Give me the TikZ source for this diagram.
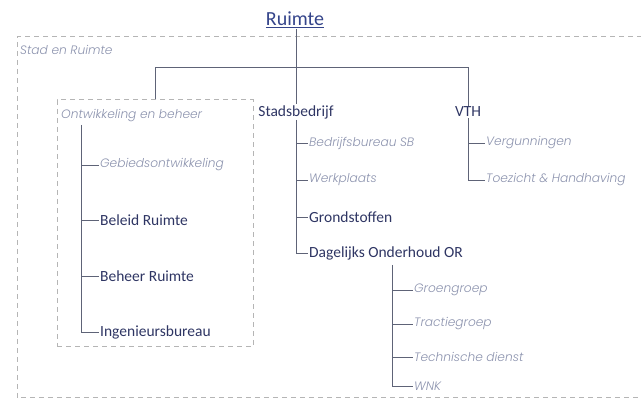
\documentclass[tikz,border=0pt]{standalone}
\usepackage{fontspec}
\setmainfont{Carlito}
\newfontfamily\lightfont{Poppins}[UprightFont=* Light, ItalicFont=* Light Italic]
\usetikzlibrary{positioning}
\definecolor{navy}{HTML}{2E3563}
\definecolor{title}{HTML}{34448A}
\definecolor{mist}{HTML}{8C93AE}
\definecolor{wire}{HTML}{5E6377}
\definecolor{frame}{HTML}{B5B5B5}
\tikzset{
  unit/.style={font=\fontsize{15.5}{17}\selectfont, text=navy, inner sep=1pt},
  sub/.style={font=\lightfont\itshape\fontsize{12.2}{14}\selectfont, text=mist, inner sep=1pt},
  tree/.style={draw=wire, line width=0.8pt},
  area/.style={draw=frame, line width=1pt, dash pattern=on 5pt off 4pt}
}
\begin{document}
\begin{tikzpicture}[x=1pt, y=-1pt]
  \useasboundingbox (0,0) rectangle (641,403);
  % outer area
  \draw[area] (660,37) -- (17,37) -- (17,398) -- (660,398);
  \node[sub, anchor=west] (stad) at (19,50) {Stad en Ruimte};
  \node[area, minimum width=196pt, minimum height=247pt] (obbox) at (155,223.5) {};
  \node[sub, anchor=west] (ob) at (60,116) {Ontwikkeling en beheer};
  \node[font=\fontsize{20}{22}\selectfont, text=title, inner sep=1pt] (ruimte) at (295,20) {\underline{Ruimte}};
  \node[unit] (sb) at (296,112) {Stadsbedrijf};
  \node[unit] (vth) at (468,112) {VTH};
  \coordinate (bar) at (296,67);
  \draw[tree] (ruimte.south -| bar) -- (bar);
  \draw[tree] (vth.north) -- (vth.north |- bar) -| (obbox.north);
  \draw[tree] (bar) -- (sb.north);
  % Ontwikkeling en beheer
  \node[sub, anchor=west] (gebied) at (99,165) {Gebiedsontwikkeling};
  \node[unit, anchor=west] (beleid) at (99,220) {Beleid Ruimte};
  \node[unit, anchor=west] (beheer) at (99,276) {Beheer Ruimte};
  \node[unit, anchor=west] (ing) at (99,332) {Ingenieursbureau};
  \coordinate (obtop) at (81,125);
  \draw[tree] (obtop) |- (ing.west);
  \foreach \n in {gebied,beleid,beheer}
    \draw[tree] (obtop |- \n.west) -- (\n.west);
  % Stadsbedrijf
  \node[sub, anchor=west] (bsb) at (308,143) {Bedrijfsbureau SB};
  \node[sub, anchor=west] (werk) at (308,180) {Werkplaats};
  \node[unit, anchor=west] (grond) at (308,217) {Grondstoffen};
  \node[unit, anchor=west] (dag) at (308,253) {Dagelijks Onderhoud OR};
  \draw[tree] (sb.south) |- (dag.west);
  \foreach \n in {bsb,werk,grond}
    \draw[tree] (sb.south |- \n.west) -- (\n.west);
  % VTH
  \node[sub, anchor=west] (verg) at (485,143) {Vergunningen};
  \node[sub, anchor=west] (toez) at (485,180) {Toezicht \& Handhaving};
  \draw[tree] (vth.south) |- (toez.west);
  \draw[tree] (vth.south |- verg.west) -- (verg.west);
  % Dagelijks Onderhoud OR
  \node[sub, anchor=west] (groen) at (413,290) {Groengroep};
  \node[sub, anchor=west] (tractie) at (413,324) {Tractiegroep};
  \node[sub, anchor=west] (tech) at (413,357) {Technische dienst};
  \node[sub, anchor=west] (wnk) at (413,386) {WNK};
  \coordinate (dagtop) at (392,265);
  \draw[tree] (dagtop) |- (wnk.west);
  \foreach \n in {groen,tractie,tech}
    \draw[tree] (dagtop |- \n.west) -- (\n.west);
\end{tikzpicture}
\end{document}
